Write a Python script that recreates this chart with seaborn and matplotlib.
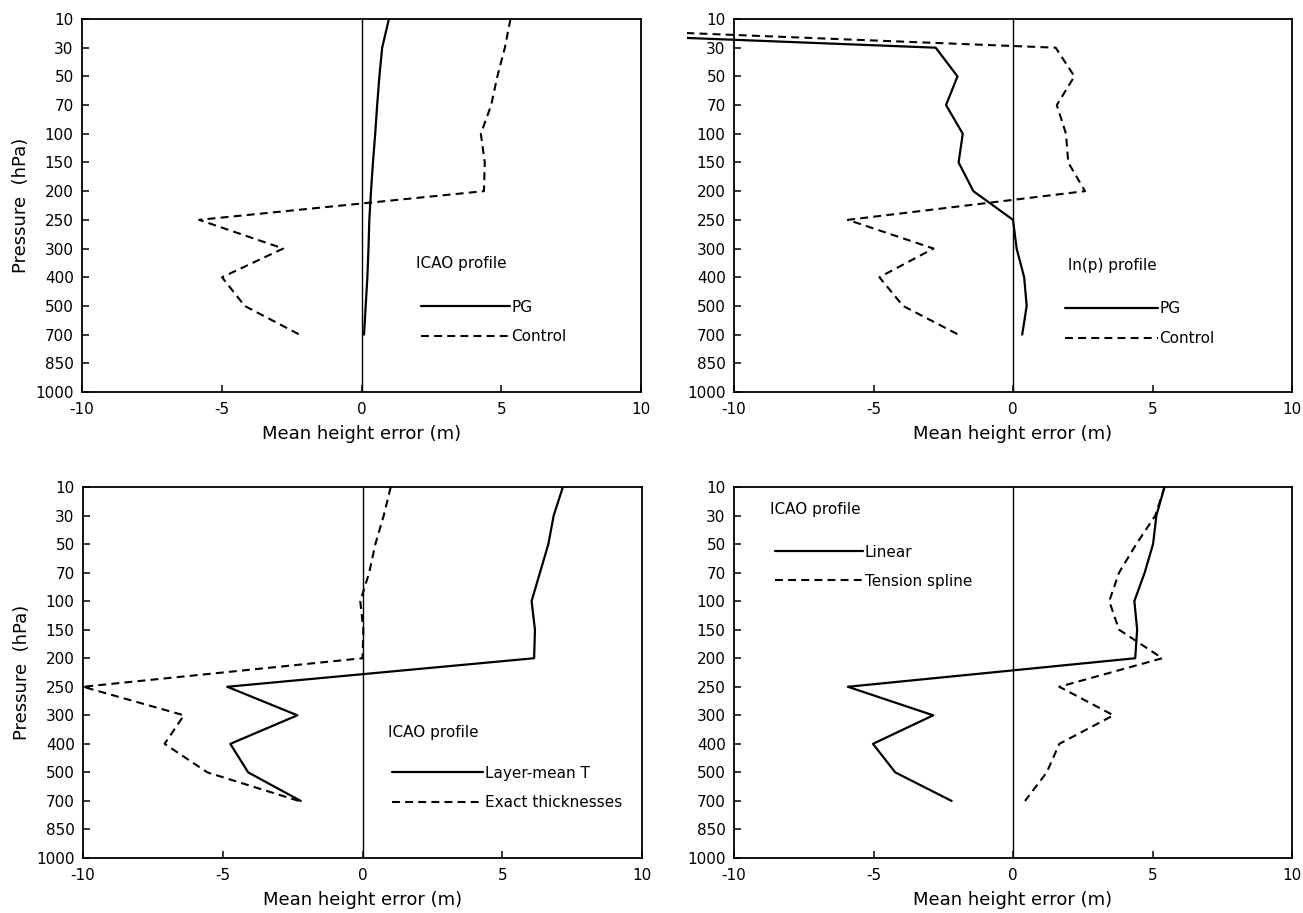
import numpy as np
import pandas as pd
import matplotlib
matplotlib.use("Agg")
import matplotlib.pyplot as plt
from matplotlib.patches import Rectangle
import seaborn as sns

# ---------------- data ----------------
levels = [10, 30, 50, 70, 100, 150, 200, 250, 300, 400, 500, 700, 850, 1000]
data_levels = [10, 30, 50, 70, 100, 150, 200, 250, 300, 400, 500, 700]

p1_pg = [0.98, 0.74, 0.64, 0.56, 0.49, 0.41, 0.34, 0.28, 0.25, 0.21, 0.15, 0.09]
p1_control = [5.33, 5.13, 4.86, 4.64, 4.27, 4.41, 4.38, -5.81, -2.80, -4.99, -4.18, -2.22]

p2_pg = [-29.0, -2.77, -1.99, -2.40, -1.80, -1.95, -1.42, 0.0, 0.13, 0.40, 0.49, 0.33]
p2_control = [-24.4, 1.53, 2.20, 1.57, 1.90, 1.98, 2.58, -5.92, -2.85, -4.79, -3.94, -1.96]

p3_layer = [7.17, 6.84, 6.65, 6.35, 6.05, 6.17, 6.14, -4.84, -2.33, -4.73, -4.09, -2.21]
p3_exact = [1.01, 0.76, 0.46, 0.24, -0.08, 0.03, 0.0, -10.0, -6.39, -7.08, -5.55, -2.28]

p4_linear = [5.43, 5.14, 5.02, 4.72, 4.35, 4.45, 4.38, -5.92, -2.86, -5.02, -4.22, -2.20]
p4_spline = [5.43, 5.10, 4.42, 3.80, 3.45, 3.80, 5.35, 1.66, 3.60, 1.66, 1.21, 0.43]

panels = [
    dict(title="ICAO profile", names=["PG", "Control"], series=[p1_pg, p1_control]),
    dict(title="ln(p) profile", names=["PG", "Control"], series=[p2_pg, p2_control]),
    dict(title="ICAO profile", names=["Layer-mean T", "Exact thicknesses"], series=[p3_layer, p3_exact]),
    dict(title="ICAO profile", names=["Linear", "Tension spline"], series=[p4_linear, p4_spline]),
]

xlabel = "Mean height error (m)"
ylabel = "Pressure  (hPa)"
xticks = [-10, -5, 0, 5, 10]

# ---------------- style ----------------
sns.set_style("ticks")
plt.rcParams["font.family"] = ["DejaVu Sans"]
plt.rcParams["axes.linewidth"] = 1.3
plt.rcParams["text.color"] = "black"
plt.rcParams["axes.labelcolor"] = "black"
plt.rcParams["xtick.color"] = "black"
plt.rcParams["ytick.color"] = "black"
plt.rcParams["legend.labelcolor"] = "black"

fig = plt.figure(figsize=(13.03, 9.13), dpi=100)

W = (641 - 82) / 1303
H1 = (392 - 19) / 913
H2 = (858 - 487) / 913
rects = [
    (82 / 1303, 1 - 392 / 913, W, H1),
    (734 / 1303, 1 - 392 / 913, (1292 - 734) / 1303, H1),
    (83 / 1303, 1 - 858 / 913, W, H2),
    (734 / 1303, 1 - 858 / 913, (1292 - 734) / 1303, H2),
]

# legend placement (axes fractions): title x, title y, line x0, row1 y, row2 y, handle length
leg_pos = [
    (0.597, 0.656, 0.606, 0.772, 0.852, 0.159),
    (0.598, 0.660, 0.593, 0.776, 0.857, 0.167),
    (0.545, 0.662, 0.553, 0.771, 0.852, 0.163),
    (0.065, 0.061, 0.073, 0.175, 0.254, 0.159),
]

fs_tick = 11
fs_label = 13

for i, (p, r) in enumerate(zip(panels, rects)):
    ax = fig.add_axes(r)
    idx = [levels.index(lv) for lv in data_levels]
    df = pd.DataFrame({
        "value": p["series"][0] + p["series"][1],
        "pos": idx + idx,
        "name": [p["names"][0]] * len(idx) + [p["names"][1]] * len(idx),
    })
    d0 = df[df["name"] == p["names"][0]]
    d1 = df[df["name"] == p["names"][1]]
    sns.lineplot(data=d0, x="value", y="pos", sort=False, estimator=None,
                 color="black", linewidth=1.6, ax=ax, label=p["names"][0])
    sns.lineplot(data=d1, x="value", y="pos", sort=False, estimator=None,
                 color="black", linewidth=1.5, linestyle=(0, (3.8, 2.5)),
                 ax=ax, label=p["names"][1])
    ax.axvline(0, color="black", linewidth=1.0, zorder=1)

    ax.set_xlim(-10, 10)
    ax.set_ylim(len(levels) - 1, 0)
    ax.set_yticks(range(len(levels)))
    ax.set_yticklabels([str(v) for v in levels])
    ax.set_xticks(xticks)
    ax.set_xticklabels([str(v) for v in xticks])
    ax.tick_params(axis="both", direction="in", length=5, width=1.1,
                   labelsize=fs_tick, colors="black")
    ax.tick_params(axis="x", pad=7)
    ax.tick_params(axis="y", pad=6)
    ax.set_xlabel(xlabel, fontsize=fs_label, labelpad=6, color="black")
    if i % 2 == 0:
        ax.set_ylabel(ylabel, fontsize=fs_label, labelpad=4, color="black")
    else:
        ax.set_ylabel("")
    for s in ax.spines.values():
        s.set_visible(True)
        s.set_color("black")

    if i == 1:
        clip = Rectangle((-0.085, 0), 1.085, 1, transform=ax.transAxes)
        for ln in ax.lines[:2]:
            ln.set_clip_path(clip)

    tx, ty, lx, y1, y2, hl = leg_pos[i]
    ax.text(tx, 1 - ty, p["title"], transform=ax.transAxes, fontsize=fs_tick,
            va="center", ha="left", color="black")
    hl_pts = hl * r[2] * 1303 * 72 / 100
    leg = ax.legend(loc="center left", bbox_to_anchor=(lx, 1 - (y1 + y2) / 2),
                    frameon=False, fontsize=fs_tick, borderpad=0, borderaxespad=0,
                    handlelength=hl_pts / fs_tick, handletextpad=0.1,
                    labelspacing=(y2 - y1) * r[3] * 913 * 72 / 100 / fs_tick - 1.0)
    for t in leg.get_texts():
        t.set_color("black")

fig.savefig("out.png", dpi=100)
